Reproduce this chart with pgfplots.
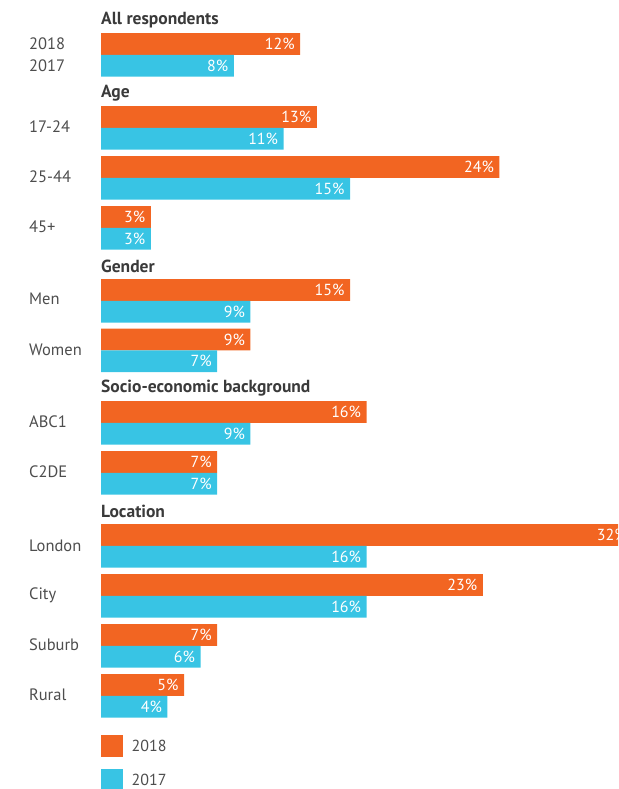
\documentclass[border=0pt]{standalone}
\usepackage{fontspec}
\setmainfont{PT Sans}
\usepackage{pgfplots}
\pgfplotsset{compat=1.18}
\definecolor{orng}{HTML}{F26522}
\definecolor{cyn}{HTML}{38C4E4}
\definecolor{lab}{HTML}{4D4D4D}
\definecolor{hdr}{HTML}{3A3A3A}
\begin{document}
\begin{tikzpicture}
\begin{axis}[
  scale only axis, width=618pt, height=789pt,
  hide axis,
  xmin=-6.0843, xmax=31.1446,
  ymin=0, ymax=789, y dir=reverse,
  bar width=21.7,
  nodes near coords={\pgfmathprintnumber[assume math mode=true]{\pgfplotspointmeta}\%},
  point meta=explicit,
  every node near coord/.append style={anchor=east, text=white, font=\fontsize{16}{16}\selectfont, xshift=-2pt},
  legend image code/.code={\fill[#1] (0pt,-10.8pt) rectangle (21.7pt,10.8pt);},
  legend style={at={(axis cs:0,735)}, anchor=north west, draw=none, fill=none,
    inner sep=0pt, outer sep=0pt, row sep=12.3pt, column sep=9pt,
    font=\fontsize{16}{16}\selectfont\color{lab},
    nodes={inner sep=0pt, text depth=0pt, anchor=west}},
  legend cell align=left,
]
\addplot[xbar, bar shift=0pt, fill=orng, draw=none] coordinates {
 (12,44)[12] (13,117)[13] (24,167)[24] (3,217)[3] (15,290)[15] (9,339.5)[9]
 (16,412)[16] (7,462)[7] (32,535)[32] (23,585)[23] (7,635)[7] (5,685)[5]};
\addplot[xbar, bar shift=0pt, fill=cyn, draw=none] coordinates {
 (8,65.7)[8] (11,138.7)[11] (15,188.7)[15] (3,238.7)[3] (9,311.7)[9] (7,361.2)[7]
 (9,433.7)[9] (7,483.7)[7] (16,556.7)[16] (16,606.7)[16] (6,656.7)[6] (4,706.7)[4]};
\legend{2018,2017}
\node[anchor=east, text=white, font=\fontsize{16}{16}\selectfont, xshift=-2pt] at (axis cs:32,535) {32\%};
% headers
\begin{scope}[every node/.style={anchor=west, inner sep=0pt, text=hdr, font=\fontsize{17.5}{17.5}\selectfont\bfseries}]
\node at (axis cs:0,20) {All respondents};
\node at (axis cs:0,93) {Age};
\node at (axis cs:0,266) {Gender};
\node at (axis cs:0,388) {Socio-economic background};
\node at (axis cs:0,511) {Location};
\end{scope}
% category labels
\begin{scope}[every node/.style={anchor=west, inner sep=0pt, text=lab, font=\fontsize{16.5}{16.5}\selectfont}]
\node at (axis cs:-4.34,44) {2018};
\node at (axis cs:-4.34,66) {2017};
\node at (axis cs:-4.34,127) {17-24};
\node at (axis cs:-4.34,177) {25-44};
\node at (axis cs:-4.34,227) {45+};
\node at (axis cs:-4.34,299) {Men};
\node at (axis cs:-4.34,350) {Women};
\node at (axis cs:-4.34,422) {ABC1};
\node at (axis cs:-4.34,472) {C2DE};
\node at (axis cs:-4.34,546) {London};
\node at (axis cs:-4.34,595) {City};
\node at (axis cs:-4.34,645) {Suburb};
\node at (axis cs:-4.34,695) {Rural};
\end{scope}
\end{axis}
\pgfresetboundingbox
\path (0,0) rectangle (618pt,789pt);
\end{tikzpicture}
\end{document}
